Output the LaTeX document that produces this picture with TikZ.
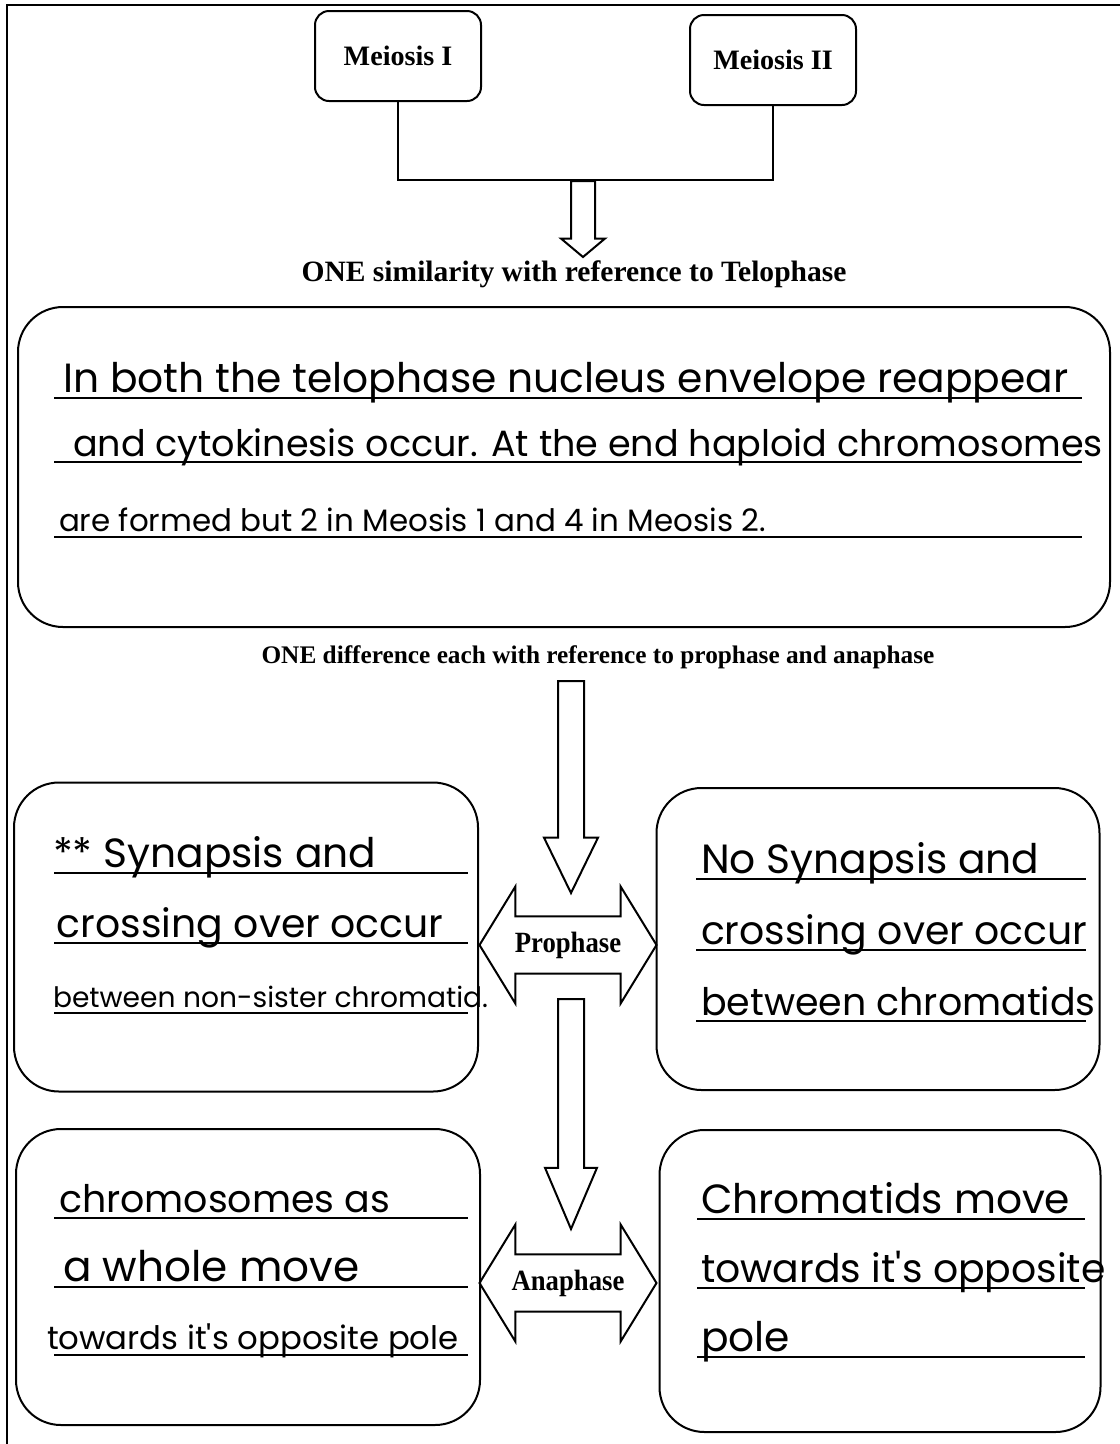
\documentclass[tikz,border=0pt]{standalone}
\usepackage{fontspec}
\setmainfont{Liberation Serif}
\newfontfamily\handfont{Poppins}
\usetikzlibrary{arrows.meta, positioning, shapes.arrows}
\newcommand{\pxl}{0.25mm}
\tikzset{%
	smallbox/.style = {
		rectangle, draw=black, rounded corners=14*\pxl,
		minimum width=166*\pxl, minimum height=90*\pxl,
		font=\fontsize{20}{24}\selectfont\bfseries
	},
	bigbox/.style = {
		rectangle, draw=black, rounded corners=45*\pxl
	},
	heading/.style = {
		font=\fontsize{#1}{24}\selectfont\bfseries, inner sep=0pt
	},
	heading/.default = 20,
	downarrow/.style = {
		single arrow, draw=black, rotate=-90, anchor=tail,
		inner xsep=0pt
	},
	phasearrow/.style = {
		double arrow, draw=black, double arrow tip angle=112,
		double arrow head extend=27*\pxl, minimum height=177*\pxl,
		inner xsep=0pt, inner ysep=13*\pxl, yscale=1.1,
		font=\fontsize{19}{20}\selectfont\bfseries
	},
	hand/.style = {
		anchor=base west, inner sep=0pt,
		font=\handfont\fontsize{#1}{#1}\selectfont
	},
	hand/.default = 28
}

\begin{document}
\begin{tikzpicture}[x=\pxl, y=-\pxl, line width=0.5mm]
    \useasboundingbox (0,0) rectangle (1120,1444);
    \draw (7,1444) -- (7,5) -- (1120,5);

    % Meiosis boxes joined into one arrow
    \node (meiosisOne)   [smallbox]   at (398,56)   {Meiosis I};
    \node (meiosisTwo)   [smallbox]   at (773,60)   {Meiosis II};
    \coordinate (merge) at (583,180);
    \draw (meiosisOne.south) |- (merge) -| (meiosisTwo.south);
    \node (arrowSim)     [downarrow, minimum height=76*\pxl, minimum width=43*\pxl,
                          inner ysep=11*\pxl, single arrow head extend=10*\pxl,
                          single arrow tip angle=100]  at (merge) {};

    % Telophase
    \node (similarity)   [heading=21] at (574,274)  {ONE similarity with reference to Telophase};
    \node (telophaseBox) [bigbox, minimum width=1092*\pxl, minimum height=320*\pxl] at (564,467) {};
    \foreach \y in {398,462,537}
        \draw (54,\y) -- (1082,\y);
    \node (telLineA)     [hand=29]    at (62,392)   {In both the telophase nucleus envelope reappear};
    \node (telLineB)     [hand=26]    at (72,456)   {and cytokinesis occur. At the end haploid chromosomes};
    \node (telLineC)     [hand=22]    at (58,531)   {are formed but 2 in Meosis 1 and 4 in Meosis 2.};

    % Prophase
    \node (difference)   [heading=18] at (598,657)  {ONE difference each with reference to prophase and anaphase};
    \node (arrowDiff)    [downarrow, minimum height=212*\pxl, minimum width=52*\pxl,
                          inner ysep=12*\pxl, single arrow head extend=14*\pxl,
                          single arrow tip angle=52]   at (571,680) {};
    \node (prophase)     [phasearrow] at (568,945)  {Prophase};
    \node (proOne)       [bigbox, minimum width=464*\pxl, minimum height=309*\pxl] at (246,937) {};
    \node (proTwo)       [bigbox, minimum width=443*\pxl, minimum height=302*\pxl] at (878,939) {};
    \foreach \y in {873,943,1013}
        \draw (54,\y) -- (468,\y);
    \foreach \y in {879,950,1021}
        \draw (696,\y) -- (1086,\y);
    \node (proLineA)     [hand=29]    at (52,867)   {** Synapsis and};
    \node (proLineB)     [hand]       at (56,937)   {crossing over occur};
    \node (proLineC)     [hand=20]    at (52,1007)  {between non-sister chromatid.};
    \node (proLineD)     [hand=29]    at (700,873)  {No Synapsis and};
    \node (proLineE)     [hand]       at (700,944)  {crossing over occur};
    \node (proLineF)     [hand=27]    at (700,1015) {between chromatids};

    % Anaphase
    \node (arrowAna)     [downarrow, minimum height=230*\pxl, minimum width=50*\pxl,
                          inner ysep=12*\pxl, single arrow head extend=13*\pxl,
                          single arrow tip angle=46]   at (571,998) {};
    \node (anaphase)     [phasearrow] at (568,1283) {Anaphase};
    \node (anaOne)       [bigbox, minimum width=464*\pxl, minimum height=296*\pxl] at (248,1277) {};
    \node (anaTwo)       [bigbox, minimum width=441*\pxl, minimum height=302*\pxl] at (880,1281) {};
    \foreach \y in {1218,1287,1355}
        \draw (54,\y) -- (468,\y);
    \foreach \y in {1219,1288,1357}
        \draw (697,\y) -- (1085,\y);
    \node (anaLineA)     [hand=27]    at (58,1212)  {chromosomes as};
    \node (anaLineB)     [hand=30]    at (62,1281)  {a whole move};
    \node (anaLineC)     [hand=23]    at (46,1349)  {towards it's opposite pole};
    \node (anaLineD)     [hand=29]    at (700,1213) {Chromatids move};
    \node (anaLineE)     [hand]       at (700,1282) {towards it's opposite};
    \node (anaLineF)     [hand=29]    at (700,1351) {pole};

\end{tikzpicture}
\end{document}
